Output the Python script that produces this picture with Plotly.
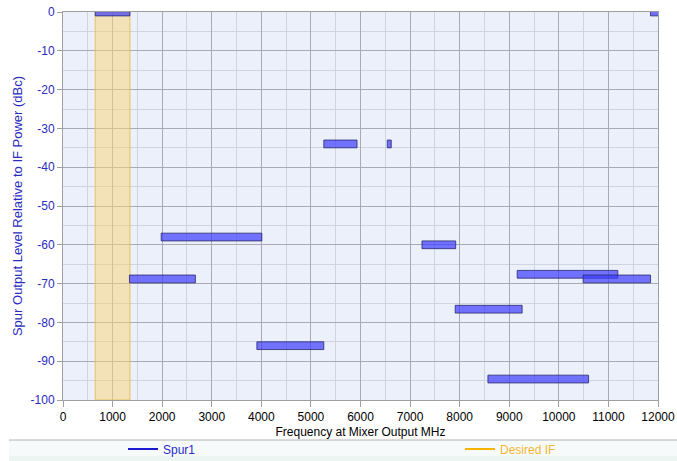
import plotly.graph_objects as go

# Spur bands: output level (dBc, band centre) and frequency span at the mixer output (MHz)
spur_level = [0, -34, -34, -58, -68.8, -86, -60, -67.6, -68.8, -76.6, -94.6, 0]
spur_lo = [650, 5260, 6540, 1980, 1340, 3910, 7240, 9160, 10490, 7910, 8570, 11850]
spur_hi = [1350, 5930, 6620, 4010, 2670, 5260, 7920, 11190, 11850, 9260, 10600, 12030]
spur_thickness = 2  # dB

# Desired IF passband
if_lo, if_hi = 650, 1350
level_floor, level_top = -100, 0

x_ticks = list(range(0, 12001, 1000))
y_ticks = list(range(-100, 1, 10))

FONT = "Liberation Sans, Arial, sans-serif"
BLUE_TXT = "#2B2BC0"

fig = go.Figure()

# Desired IF band (full height, translucent so the grid shows through)
fig.add_trace(go.Bar(
    x=[(if_lo + if_hi) / 2], y=[level_top - level_floor], base=[level_floor],
    width=[if_hi - if_lo], orientation="v",
    marker=dict(color="rgba(250,212,118,0.5)",
                line=dict(color="rgba(232,186,80,0.85)", width=1)),
    showlegend=False, hoverinfo="skip",
))

# Spur bands as horizontal bars
fig.add_trace(go.Bar(
    y=spur_level,
    x=[h - l for l, h in zip(spur_lo, spur_hi)],
    base=spur_lo,
    width=[spur_thickness] * len(spur_level),
    orientation="h",
    marker=dict(color="rgba(60,60,255,0.7)",
                line=dict(color="rgba(40,40,110,0.8)", width=1)),
    showlegend=False,
))

# Legend entries, one legend box each so they sit apart
fig.add_trace(go.Scatter(x=[None], y=[None], mode="lines",
                         line=dict(color="#1A1AD0", width=2),
                         name='<span style="color:#2A2ACC">Spur1</span>',
                         legend="legend"))
fig.add_trace(go.Scatter(x=[None], y=[None], mode="lines",
                         line=dict(color="#F5B400", width=2),
                         name='<span style="color:#F2B632">Desired IF</span>',
                         legend="legend2"))

plot_w = 677 - 63 - 19
plot_h = 461 - 12 - 61


def px_x(p):
    return (p - 63) / plot_w


def px_y(p):
    return (400 - p) / plot_h


legend_style = dict(orientation="h", xanchor="left", yanchor="middle",
                    y=px_y(449), bgcolor="rgba(0,0,0,0)",
                    font=dict(family=FONT, size=12),
                    itemclick=False, itemdoubleclick=False)

fig.update_layout(
    width=677, height=461,
    margin=dict(l=63, r=19, t=12, b=61, autoexpand=False),
    paper_bgcolor="white",
    plot_bgcolor="#ECF0FA",
    barmode="overlay",
    font=dict(family=FONT, size=12, color="black"),
    showlegend=True,
    legend=dict(x=px_x(123), **legend_style),
    legend2=dict(x=px_x(460), **legend_style),
    shapes=[
        dict(type="rect", xref="paper", yref="paper",
             x0=px_x(9), x1=px_x(677), y0=px_y(461), y1=px_y(440),
             fillcolor="#F7FAFA", line=dict(width=0), layer="below"),
        dict(type="rect", xref="paper", yref="paper",
             x0=px_x(9), x1=px_x(677), y0=px_y(461), y1=px_y(456),
             fillcolor="#EDF5F2", line=dict(width=0), layer="below"),
        dict(type="line", xref="paper", yref="paper",
             x0=px_x(9), x1=px_x(677), y0=px_y(440), y1=px_y(440),
             line=dict(color="#B4B4B4", width=1)),
    ],
)

fig.update_xaxes(
    range=[0, 12000], tickvals=x_ticks, ticktext=[str(v) for v in x_ticks],
    showgrid=True, gridcolor="#A8ABB5", gridwidth=1,
    minor=dict(dtick=500, showgrid=True, gridcolor="#CFD4E0", ticks=""),
    showline=True, linecolor="#A0A0A0", mirror=True,
    ticks="outside", ticklen=6, tickcolor="#A0A0A0",
    tickfont=dict(family=FONT, size=12, color="black"),
    title=dict(text="Frequency at Mixer Output MHz", standoff=4,
               font=dict(family=FONT, size=12, color="black")),
    zeroline=False, fixedrange=True,
)
fig.update_yaxes(
    range=[-100, 0], tickvals=y_ticks, ticktext=[str(v) for v in y_ticks],
    showgrid=True, gridcolor="#A8ABB5", gridwidth=1,
    minor=dict(dtick=5, showgrid=True, gridcolor="#CFD4E0", ticks=""),
    showline=True, linecolor="#A0A0A0", mirror=True,
    ticks="outside", ticklen=5, tickcolor="#A0A0A0",
    tickfont=dict(family=FONT, size=12, color=BLUE_TXT),
    title=dict(text="Spur Output Level Relative to IF Power (dBc)", standoff=5,
               font=dict(family=FONT, size=13, color=BLUE_TXT)),
    zeroline=False, fixedrange=True,
)

fig.write_html("out.html")
